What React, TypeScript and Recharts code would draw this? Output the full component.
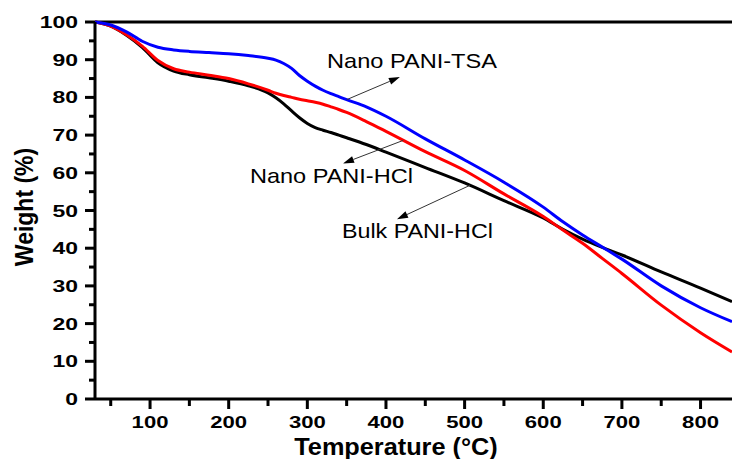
import React from "react";
import {
  Customized,
  Line,
  LineChart,
  ReferenceDot,
  ReferenceLine,
  XAxis,
  YAxis,
} from "recharts";

// TGA curves, weight (%) vs temperature (°C)
const temps = [30, 50, 70, 90, 110, 130, 150, 175, 200, 225, 250, 260, 270, 280, 290, 300, 310, 320, 330, 340, 350, 375, 400, 450, 500, 550, 600, 625, 650, 675, 700, 750, 800, 840];
const nanoTsa = [100, 99.2, 97.4, 94.9, 93.3, 92.6, 92.2, 91.9, 91.6, 91.1, 90.4, 89.9, 89.0, 87.7, 85.8, 84.3, 83.0, 81.9, 81.0, 80.2, 79.4, 77.5, 75.0, 69.0, 63.4, 57.5, 50.9, 47.0, 43.5, 40.3, 37.1, 30.0, 24.2, 20.5];
const nanoHcl = [100, 98.9, 96.6, 93.6, 89.8, 87.6, 86.7, 85.9, 85.0, 83.6, 81.9, 81.1, 80.5, 80.0, 79.5, 79.1, 78.7, 78.2, 77.5, 76.8, 76.0, 73.6, 71.0, 65.6, 60.6, 54.4, 48.4, 44.8, 41.3, 37.3, 33.3, 24.9, 17.6, 12.5];
const bulkHcl = [100, 98.9, 96.5, 93.3, 89.2, 87.0, 86.0, 85.2, 84.3, 83.1, 81.2, 79.9, 78.3, 76.4, 74.6, 73.1, 72.0, 71.3, 70.7, 70.0, 69.3, 67.5, 65.5, 61.4, 57.3, 52.6, 48.0, 45.0, 42.4, 40.2, 38.2, 33.7, 29.4, 25.8];

const xTicks = [50, 100, 150, 200, 250, 300, 350, 400, 450, 500, 550, 600, 650, 700, 750, 800];
const yTicks = [0, 5, 10, 15, 20, 25, 30, 35, 40, 45, 50, 55, 60, 65, 70, 75, 80, 85, 90, 95, 100];

// annotation labels: text, start (T, W), drawn length
const labels = [
  { text: "Nano PANI-TSA", x: 325, y: 87.7, len: 170 },
  { text: "Nano PANI-HCl", x: 227, y: 57.2, len: 163 },
  { text: "Bulk PANI-HCl", x: 344, y: 42.7, len: 151 },
];
// arrows: from curve point to label
const arrows = [
  [{ x: 350, y: 79.4 }, { x: 417.7, y: 85.4 }],
  [{ x: 422, y: 68.6 }, { x: 345.4, y: 62.5 }],
  [{ x: 507, y: 56.7 }, { x: 414, y: 47.7 }],
];

const data = temps.map((t, i) => ({
  t,
  tsa: nanoTsa[i],
  hcl: nanoHcl[i],
  bulk: bulkHcl[i],
}));

const FONT = "'Liberation Sans', Arial, sans-serif";

const YTick = (props: any) => {
  const { x, y, payload } = props;
  const major = payload.value % 10 === 0;
  return (
    <g transform={`translate(${x},${y})`}>
      <rect x={major ? -10 : -6} y={-1.5} width={major ? 10 : 6} height={3} fill="#000" stroke="none" />
      {major && (
        <text
          transform="translate(-17,6) scale(1.35,1)"
          textAnchor="end"
          fontFamily={FONT}
          fontWeight="bold"
          fontSize={17}
          fill="#000"
          stroke="none"
        >
          {payload.value}
        </text>
      )}
    </g>
  );
};

const XTick = (props: any) => {
  const { x, y, payload } = props;
  const major = payload.value % 100 === 0;
  return (
    <g transform={`translate(${x},${y})`}>
      <rect x={-1.5} y={0} width={3} height={major ? 10 : 7} fill="#000" stroke="none" />
      {major && (
        <text
          transform="translate(0,29) scale(1.3,1)"
          textAnchor="middle"
          fontFamily={FONT}
          fontWeight="bold"
          fontSize={17}
          fill="#000"
          stroke="none"
        >
          {payload.value}
        </text>
      )}
    </g>
  );
};

const arrowShape = (props: any) => {
  const { x1, y1, x2, y2 } = props;
  const dx = x2 - x1;
  const dy = y2 - y1;
  const len = Math.hypot(dx, dy) || 1;
  const ux = dx / len;
  const uy = dy / len;
  const hl = 11;
  const hw = 3.5;
  const bx = x2 - ux * hl;
  const by = y2 - uy * hl;
  return (
    <g>
      <line x1={x1} y1={y1} x2={bx} y2={by} stroke="#333" strokeWidth={1} />
      <polygon
        points={`${x2},${y2} ${bx - uy * hw},${by + ux * hw} ${bx + uy * hw},${by - ux * hw}`}
        fill="#000"
      />
    </g>
  );
};

const labelShape = (text: string, len: number) => (props: any) => (
  <text
    x={props.cx}
    y={props.cy}
    fontFamily={FONT}
    fontSize={21}
    fill="#000"
    textLength={len}
    lengthAdjust="spacingAndGlyphs"
  >
    {text}
  </text>
);

const AxisTitles = () => (
  <g>
    <text
      transform="translate(33,207) scale(1.15,1) rotate(-90)"
      textAnchor="middle"
      fontFamily={FONT}
      fontWeight="bold"
      fontSize={23}
      fill="#000"
    >
      Weight (%)
    </text>
    <text
      transform="translate(396,455) scale(1.1,1)"
      textAnchor="middle"
      fontFamily={FONT}
      fontWeight="bold"
      fontSize={23}
      fill="#000"
    >
      Temperature (°C)
    </text>
  </g>
);

export default function App() {
  return (
    <div style={{ position: "absolute", left: 0, top: 0, background: "#fff" }}>
      <LineChart width={732} height={459} data={data} margin={{ top: 22, right: 0, bottom: 0, left: 0 }}>
        <XAxis
          dataKey="t"
          type="number"
          domain={[30, 840]}
          allowDataOverflow
          ticks={xTicks}
          interval={0}
          height={60}
          tickSize={0}
          tickMargin={0}
          tickLine={false}
          tick={<XTick />}
          axisLine={{ stroke: "#000", strokeWidth: 3 }}
        />
        <YAxis
          type="number"
          domain={[0, 100]}
          ticks={yTicks}
          interval={0}
          width={95}
          tickSize={0}
          tickMargin={0}
          tickLine={false}
          tick={<YTick />}
          axisLine={{ stroke: "#000", strokeWidth: 3 }}
        />
        <ReferenceLine y={100} stroke="#000" strokeWidth={3} />
        <Line type="monotone" dataKey="bulk" stroke="#000000" strokeWidth={3} dot={false} isAnimationActive={false} />
        <Line type="monotone" dataKey="hcl" stroke="#ff0000" strokeWidth={3} dot={false} isAnimationActive={false} />
        <Line type="monotone" dataKey="tsa" stroke="#0000ff" strokeWidth={3} dot={false} isAnimationActive={false} />
        {arrows.map((seg, i) => (
          <ReferenceLine key={`a${i}`} segment={seg} shape={arrowShape} />
        ))}
        {labels.map((l) => (
          <ReferenceDot key={l.text} x={l.x} y={l.y} r={0} shape={labelShape(l.text, l.len)} />
        ))}
        <Customized component={AxisTitles} />
      </LineChart>
    </div>
  );
}
